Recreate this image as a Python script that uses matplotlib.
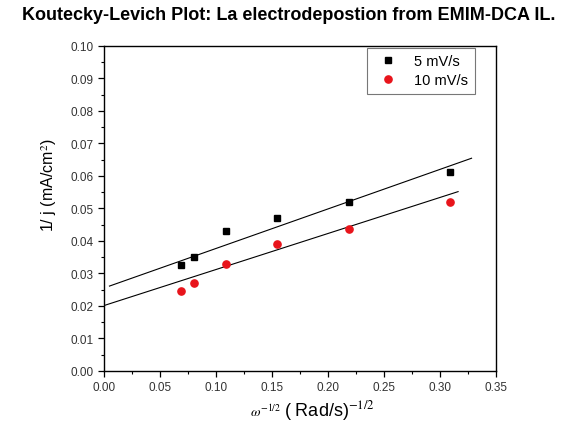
import numpy as np
import matplotlib
matplotlib.use("Agg")
from matplotlib import pyplot as plt
from matplotlib.ticker import MultipleLocator, FormatStrFormatter

plt.rcParams['font.family'] = ['Liberation Sans', 'DejaVu Sans']
plt.rcParams['mathtext.fontset'] = 'stix'

# omega^-1/2 for each rotation rate
omega_inv = [0.069, 0.080, 0.1093, 0.1545, 0.2185, 0.309]
inv_j_5 = [0.0326, 0.0352, 0.0430, 0.0472, 0.0520, 0.0612]
inv_j_10 = [0.0247, 0.0272, 0.0330, 0.0391, 0.0438, 0.0521]

# linear fit results: slope, intercept, x range
fit_5 = [0.1218, 0.0255]
fit_10 = [0.1110, 0.0201]
fit_range_5 = [0.005, 0.328]
fit_range_10 = [0.0, 0.316]

fig = plt.figure(figsize=(5.77, 4.27), dpi=100)
ax = fig.add_axes([0.180, 0.129, 0.680, 0.761])

for (k, b), rng in ((fit_5, fit_range_5), (fit_10, fit_range_10)):
    xx = np.array(rng)
    ax.plot(xx, k*xx + b, color='black', lw=0.8)

ax.plot(omega_inv, inv_j_5, 's', color='black', ms=5, label='5 mV/s')
ax.plot(omega_inv, inv_j_10, 'o', color='#e8141b', ms=5.2, mec='#e8141b', label='10 mV/s')

ax.set_xlim(0, 0.35)
ax.set_ylim(0, 0.10)
ax.xaxis.set_major_locator(MultipleLocator(0.05))
ax.xaxis.set_minor_locator(MultipleLocator(0.025))
ax.yaxis.set_major_locator(MultipleLocator(0.01))
ax.yaxis.set_minor_locator(MultipleLocator(0.005))
ax.xaxis.set_major_formatter(FormatStrFormatter('%.2f'))
ax.yaxis.set_major_formatter(FormatStrFormatter('%.2f'))
ax.tick_params(which='both', direction='out', top=False, right=False,
               labelsize=8.5, labelcolor='#333333')
ax.tick_params(which='major', length=4, width=0.9)
ax.tick_params(which='minor', length=2.5, width=0.8)
for s in ax.spines.values():
    s.set_linewidth(1.0)

# x label: small omega, bigger units text
ax.text(0.452, -0.1375, r'$\omega^{-1/2}$', transform=ax.transAxes,
        ha='right', va='baseline', fontsize=10)
ax.text(0.458, -0.1375, r'( Rad/s)$^{-1/2}$', transform=ax.transAxes,
        ha='left', va='baseline', fontsize=13)

ax.set_ylabel(r'1/ j (mA/cm$^2$)', fontsize=11.5)
ax.yaxis.set_label_coords(-0.115, 0.575)

leg = ax.legend(loc='upper right', bbox_to_anchor=(0.946, 0.995), fontsize=10.5,
                frameon=True, fancybox=False, edgecolor='#555555',
                handletextpad=0.8, borderpad=0.45, labelspacing=0.33,
                handlelength=2.0, borderaxespad=0)
leg.get_frame().set_linewidth(0.8)

fig.text(0.5, 0.963, 'Koutecky-Levich Plot: La electrodepostion from EMIM-DCA IL.',
         ha='center', va='center', fontsize=13, fontweight='bold')

fig.savefig('out.png', dpi=100)
